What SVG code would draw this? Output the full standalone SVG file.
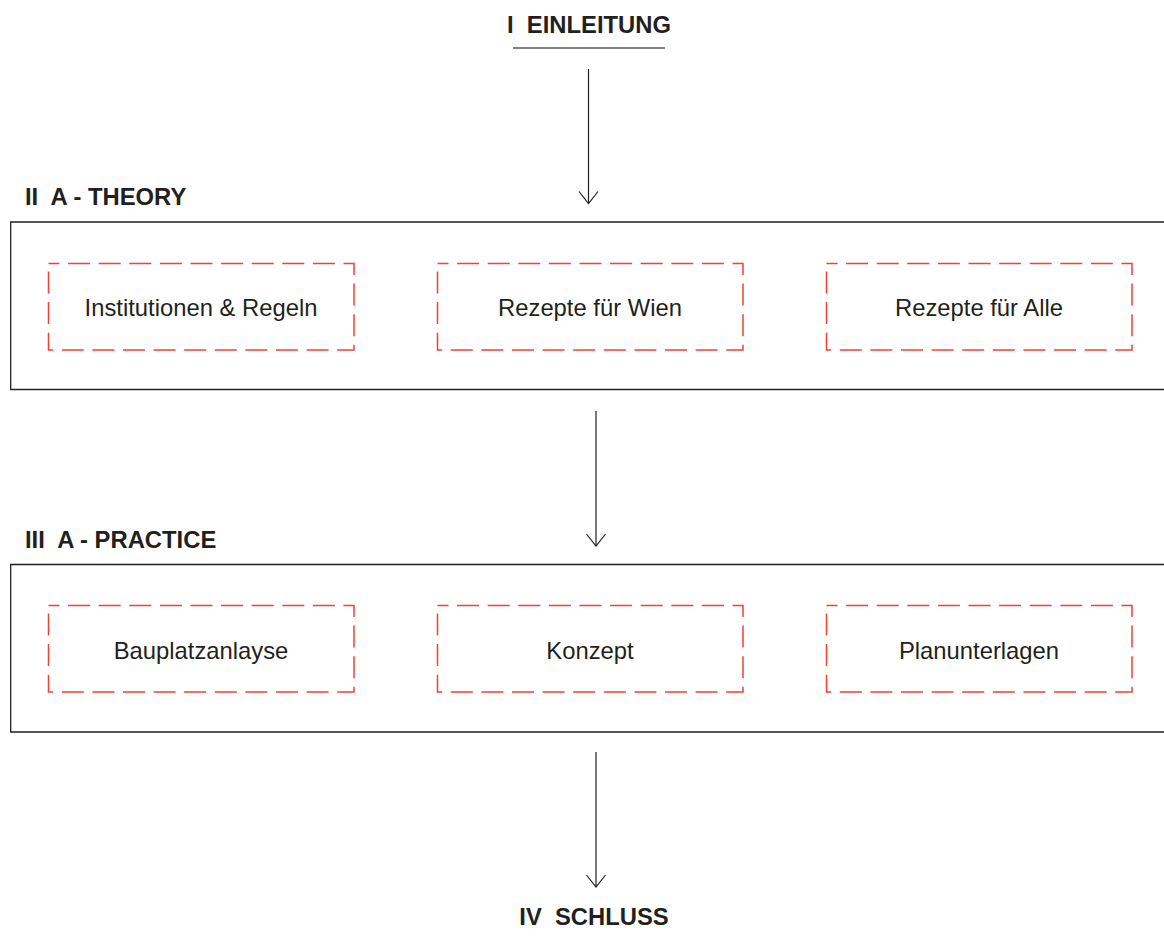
<svg xmlns="http://www.w3.org/2000/svg" width="1164" height="938" viewBox="0 0 1164 938">
<style>
.title{font-family:"Liberation Sans",Arial,sans-serif;font-weight:bold;font-size:23.8px;fill:#231f20;white-space:pre}
.lbl{font-family:"Liberation Sans",Arial,sans-serif;font-size:23.8px;fill:#231f20;text-anchor:middle}
.frame{fill:none;stroke:#231f20;stroke-width:1.3}
.dash{fill:none;stroke:#ef4136;stroke-width:1.5;stroke-dasharray:22 8.6;stroke-dashoffset:11}
.conn{stroke:#231f20;stroke-width:1.2;fill:none}
</style>
<defs>
<marker id="arr" markerWidth="20" markerHeight="22" refX="14" refY="11" orient="auto" markerUnits="userSpaceOnUse" viewBox="0 0 20 22">
<path d="M2,1.5 L14,11 L2,20.5" fill="none" stroke="#231f20" stroke-width="1.2"/>
</marker>
</defs>
<rect width="1164" height="938" fill="#fff"/>
<g id="einleitung">
<text class="title" x="589" y="33" text-anchor="middle" xml:space="preserve">I  EINLEITUNG</text>
<line x1="513" y1="48" x2="665" y2="48" stroke="#58595b" stroke-width="1.5"/>
</g>
<g id="theory">
<text class="title" x="25" y="205" xml:space="preserve">II  A - THEORY</text>
<path class="frame" d="M1170,222 H10.7 V389.5 H1170"/>
</g>
<g id="institutionen">
<rect class="dash" x="48.5" y="263.5" width="305.5" height="86.5"/>
<text class="lbl" x="201" y="316">Institutionen &amp; Regeln</text>
</g>
<g id="rezepte-wien">
<rect class="dash" x="437.5" y="263.5" width="305.5" height="86.5"/>
<text class="lbl" x="590" y="316">Rezepte für Wien</text>
</g>
<g id="rezepte-alle">
<rect class="dash" x="826.5" y="263.5" width="305.5" height="86.5"/>
<text class="lbl" x="979" y="316">Rezepte für Alle</text>
</g>
<g id="practice">
<text class="title" x="25" y="548" xml:space="preserve">III  A - PRACTICE</text>
<path class="frame" d="M1170,564.5 H10.7 V732 H1170"/>
</g>
<g id="bauplatz">
<rect class="dash" x="48.5" y="605.5" width="305.5" height="86.5"/>
<text class="lbl" x="201" y="659">Bauplatzanlayse</text>
</g>
<g id="konzept">
<rect class="dash" x="437.5" y="605.5" width="305.5" height="86.5"/>
<text class="lbl" x="590" y="659">Konzept</text>
</g>
<g id="planunterlagen">
<rect class="dash" x="826.5" y="605.5" width="305.5" height="86.5"/>
<text class="lbl" x="979" y="659">Planunterlagen</text>
</g>
<g id="schluss">
<text class="title" x="594" y="925" text-anchor="middle" xml:space="preserve">IV  SCHLUSS</text>
</g>
<g id="connectors">
<line class="conn" x1="588.5" y1="69" x2="588.5" y2="203.5" marker-end="url(#arr)"/>
<line class="conn" x1="596" y1="411" x2="596" y2="546" marker-end="url(#arr)"/>
<line class="conn" x1="596" y1="752" x2="596" y2="887" marker-end="url(#arr)"/>
</g>
</svg>
